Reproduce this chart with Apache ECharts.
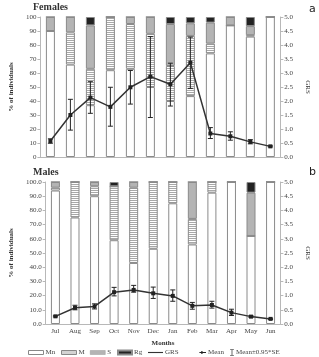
<!DOCTYPE html>
<html><head><meta charset="utf-8">
<script src="https://cdn.jsdelivr.net/npm/echarts@6/dist/echarts.min.js"></script>
<style>html,body{margin:0;padding:0;background:#fff}#c{width:319px;height:357px}</style>
</head><body><div id="c"></div>
<script>
const months = ['Jul','Aug','Sep','Oct','Nov','Dec','Jan','Feb','Mar','Apr','May','Jun'];
// Females (% of individuals)
const fMn = [90,66,37,62,63,50,40,43.5,74,94,86,100];
const fM  = [0,23,26,38,32,38,25,43,7,0,1,0];
const fS  = [10,11,31,0,5,12,30,9,15,6,6.5,0];
const fRg = [0,0,6,0,0,0,5,4.5,4,0,6.5,0];
const fMean = [0.57,1.5,2.12,1.79,2.49,2.87,2.6,3.37,0.84,0.74,0.54,0.38];
const fLow  = [0.49,0.96,1.56,1.1,1.89,1.41,1.82,2.45,0.66,0.6,0.47,0.36];
const fHigh = [0.65,2.06,2.69,2.49,3.09,4.3,3.35,4.28,1.05,0.9,0.62,0.40];
// Males
const mMn = [94,75,90,59,43,53,85,56,92.5,100,62,100];
const mM  = [2,25,7,38,53,47,15,18,7.5,0,0,0];
const mS  = [4,0,3,0,4,0,0,26,0,0,30.5,0];
const mRg = [0,0,0,3,0,0,0,0,0,0,7.5,0];
const mMean = [0.27,0.57,0.62,1.12,1.2,1.08,0.99,0.64,0.67,0.4,0.26,0.18];
const mLow  = [0.25,0.5,0.53,0.99,1.12,0.9,0.8,0.52,0.56,0.3,0.23,0.16];
const mHigh = [0.29,0.66,0.71,1.29,1.36,1.3,1.2,0.76,0.8,0.52,0.29,0.2];
const legendNames = ['Mn','M','S','Rg','GRS','Mean','Mean±0.95*SE'];

const SERIF = '"Liberation Serif","DejaVu Serif",serif';
const cv = document.createElement('canvas'); cv.width = 2; cv.height = 2;
const cx = cv.getContext('2d'); cx.fillStyle = '#fff'; cx.fillRect(0,0,2,2);
cx.fillStyle = '#a8a8a8'; cx.fillRect(0,0,2,1);
const stripe = {image: cv, repeat: 'repeat'};

const chart = echarts.init(document.getElementById('c'), null, {renderer:'canvas'});
const border = {borderColor:'#8a8a8a', borderWidth:1};
function bars(g, mn, m, s, rg){
  const st = 'st'+g;
  const mk = (name, data, color) => ({name, type:'bar', xAxisIndex:g, yAxisIndex:g*2, stack:st, barWidth:9,
    data, itemStyle:Object.assign({color}, border), silent:true});
  return [mk(legendNames[0], mn, '#fff'), mk(legendNames[1], m, stripe), mk(legendNames[2], s, '#b4b4b4'), mk(legendNames[3], rg, '#222')];
}
function errs(g, low, high){
  return {name:legendNames[6], type:'custom', xAxisIndex:g, yAxisIndex:g*2+1, z:5,
    itemStyle:{color:'#222'},
    data: low.map((l,i)=>[i, l, high[i]]),
    renderItem:(p, api)=>{
      const a = api.coord([api.value(0), api.value(1)]);
      const b = api.coord([api.value(0), api.value(2)]);
      const w = 2.5, st = {stroke:'#222', lineWidth:1};
      return {type:'group', children:[
        {type:'line', shape:{x1:a[0],y1:a[1],x2:b[0],y2:b[1]}, style:st},
        {type:'line', shape:{x1:a[0]-w,y1:a[1],x2:a[0]+w,y2:a[1]}, style:st},
        {type:'line', shape:{x1:b[0]-w,y1:b[1],x2:b[0]+w,y2:b[1]}, style:st}
      ]};
    }};
}
function meanLine(g, d){
  return {name:legendNames[5], type:'line', xAxisIndex:g, yAxisIndex:g*2+1, data:d, z:6,
    symbol:'rect', symbolSize:4, lineStyle:{color:'#333', width:1.5}, itemStyle:{color:'#222'}};
}
const axisCol = '#b8b8b8';
const lbl = {fontSize:7, fontFamily:SERIF, color:'#444'};
function yL(g, fmt){
  return {type:'value', gridIndex:g, min:0, max:100, interval:10, position:'left',
    axisLine:{show:true, lineStyle:{color:axisCol}}, axisTick:{show:true, length:3, lineStyle:{color:axisCol}},
    splitLine:{show:false}, axisLabel:Object.assign({margin:4, formatter:fmt}, lbl),
    name:'% of individuals', nameLocation:'middle', nameGap: g===0?19:23,
    nameTextStyle:{fontSize:7, fontFamily:SERIF, fontWeight:'bold', color:'#333'}};
}
function yR(g){
  return {type:'value', gridIndex:g, min:0, max:5, interval:0.5, position:'right',
    axisLine:{show:true, lineStyle:{color:axisCol}}, axisTick:{show:true, length:3, lineStyle:{color:axisCol}},
    splitLine:{show:false}, axisLabel:Object.assign({margin:4, formatter:v=>v.toFixed(1)}, lbl),
    name:'GRS', nameLocation:'middle', nameGap:20, nameRotate:-90,
    nameTextStyle:{fontSize:7, fontFamily:SERIF, color:'#333'}};
}
const legendIcons = [
  {icon:'rect', itemStyle:{color:'#fff', borderColor:'#888', borderWidth:1}, x:28, w:15, h:4},
  {icon:'rect', itemStyle:{color:stripe, borderColor:'#888', borderWidth:1}, x:61, w:15, h:4},
  {icon:'rect', itemStyle:{color:'#b4b4b4', borderColor:'#999', borderWidth:0.5}, x:90, w:15, h:4},
  {icon:'rect', itemStyle:{color:'#222'}, x:117, w:14, h:4},
  {icon:'path://M0,0h20v1.5h-20z', itemStyle:{color:'#333'}, x:148, w:15, h:1.5},
  {icon:'path://M0,2h8v-1.5h3v-1.5h3v1.5h6v1.5h-6v1.5h-3v-1.5h-3z', itemStyle:{color:'#222'}, x:195, w:11, h:4},
  {icon:'path://M0,0h6v1h-2.5v8h2.5v1h-6v-1h2.5v-8h-2.5z', itemStyle:{color:'#222'}, x:230, w:4, h:7}
];
const legends = legendNames.map((n,i)=>({
  left:legendIcons[i].x, top:349, padding:0, itemWidth:legendIcons[i].w, itemHeight:legendIcons[i].h,
  selectedMode:false,
  textStyle:{fontSize:7, fontFamily:SERIF, color:'#444', padding:[0,0,0,-3]},
  data:[{name:n, icon:legendIcons[i].icon, itemStyle:legendIcons[i].itemStyle}]
}));
chart.setOption({
  animation:false,
  grid:[{left:33, right:36, top:17, height:140}, {left:33, right:36, top:182, height:142}],
  xAxis:[
    {type:'category', gridIndex:0, data:months, axisLabel:{show:false},
     axisLine:{lineStyle:{color:axisCol}}, axisTick:{length:3, lineStyle:{color:axisCol}}},
    {type:'category', gridIndex:1, data:months, axisLabel:Object.assign({margin:4}, lbl),
     axisLine:{lineStyle:{color:axisCol}}, axisTick:{length:3, lineStyle:{color:axisCol}},
     name:'Months', nameLocation:'middle', nameGap:16,
     nameTextStyle:{fontSize:7, fontFamily:SERIF, fontWeight:'bold', color:'#333'}}
  ],
  yAxis:[yL(0, v=>String(v)), yR(0), yL(1, v=>v.toFixed(1)), yR(1)],
  legend:legends,
  graphic:[
    {type:'text', left:33, top:2, style:{text:'Females', font:'bold 10px '+SERIF, fill:'#333'}},
    {type:'text', left:33, top:167, style:{text:'Males', font:'bold 10px '+SERIF, fill:'#333'}},
    {type:'text', left:309, top:4, style:{text:'a', font:'11px "DejaVu Sans",sans-serif', fill:'#222'}},
    {type:'text', left:309, top:167, style:{text:'b', font:'11px "DejaVu Sans",sans-serif', fill:'#222'}}
  ],
  series:[
    ...bars(0, fMn, fM, fS, fRg),
    ...bars(1, mMn, mM, mS, mRg),
    {name:legendNames[4], type:'line', xAxisIndex:0, yAxisIndex:1, data:[], itemStyle:{color:'#333'}, lineStyle:{color:'#333'}},
    errs(0, fLow, fHigh), meanLine(0, fMean),
    errs(1, mLow, mHigh), meanLine(1, mMean)
  ]
});
</script></body></html>
